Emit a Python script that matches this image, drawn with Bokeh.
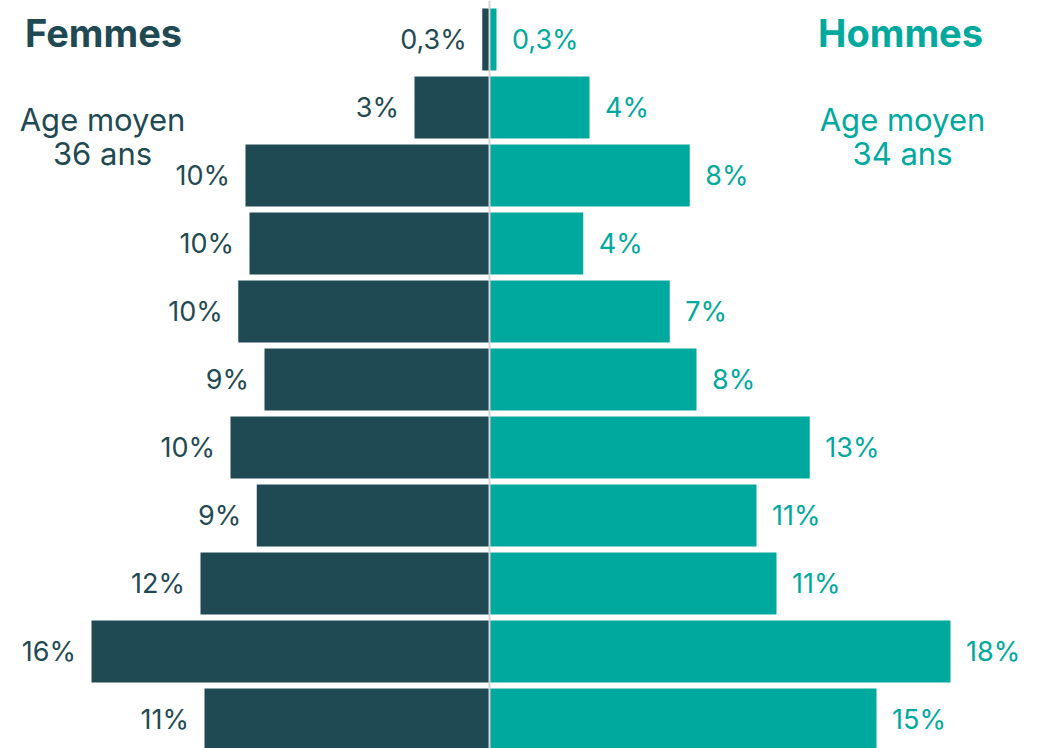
from bokeh.plotting import figure
from bokeh.models import ColumnDataSource, Range1d, Span, Label
from bokeh.embed import file_html
from bokeh.resources import INLINE
from bokeh.core.properties import value

# Data (rows from top = oldest to bottom = youngest)
femmes = [0.29, 3.0, 9.76, 9.6, 10.05, 9.0, 10.36, 9.31, 11.56, 15.92, 11.4]
hommes = [0.28, 4.0, 8.01, 3.75, 7.21, 8.28, 12.81, 10.68, 11.48, 18.44, 15.48]
femmes_labels = ["0,3%", "3%", "10%", "10%", "10%", "9%", "10%", "9%", "12%", "16%", "11%"]
hommes_labels = ["0,3%", "4%", "8%", "4%", "7%", "8%", "13%", "11%", "11%", "18%", "15%"]

DARK = "#1f4a53"
TEAL = "#00a99d"
FONT = "Inter"

rows = list(range(len(femmes)))
gap = 0.62

src = ColumnDataSource(dict(
    y=rows,
    fl=[-v for v in femmes],
    hr=hommes,
    zero=[0] * len(rows),
    flx=[-v - gap for v in femmes],
    hrx=[v + gap for v in hommes],
    ftxt=femmes_labels,
    htxt=hommes_labels,
))

W, H = 1041, 748
cx = 489
top = 39  # pixel centre of first row
scale = 25.0
p = figure(width=W, height=H, output_backend="svg", toolbar_location=None,
           x_range=Range1d(-cx / scale, (W - cx) / scale),
           y_range=Range1d((H - top) / 68.0, -top / 68.0),
           min_border=0, outline_line_color=None, background_fill_color="white",
           border_fill_color="white")
p.axis.visible = False
p.grid.visible = False

p.hbar(y="y", left="fl", right="zero", height=0.912, source=src, fill_color=DARK, line_color=None)
p.hbar(y="y", left="zero", right="hr", height=0.912, source=src, fill_color=TEAL, line_color=None)

p.add_layout(Span(location=0, dimension="height", line_color="#d4d4d4", line_width=2))

p.text(x="flx", y="y", text="ftxt", source=src, text_align="right", text_baseline="middle",
       text_color=DARK, text_font=value(FONT), text_font_size="27px")
p.text(x="hrx", y="y", text="htxt", source=src, text_align="left", text_baseline="middle",
       text_color=TEAL, text_font=value(FONT), text_font_size="27px")

def lab(x, y, t, color, size, style="normal"):
    p.add_layout(Label(x=x, y=y, text=t, text_color=color, text_font=FONT,
                       text_font_size=size, text_font_style=style,
                       text_align="center", text_baseline="middle"))

lab(-15.44, -0.09, "Femmes", DARK, "38px", "bold")
lab(16.44, -0.09, "Hommes", TEAL, "38px", "bold")
lab(-15.48, 1.17, "Age moyen", DARK, "31px")
lab(-15.48, 1.68, "36 ans", DARK, "31px")
lab(16.52, 1.17, "Age moyen", TEAL, "31px")
lab(16.52, 1.68, "34 ans", TEAL, "31px")

open("out.html", "w").write(file_html(p, INLINE))
